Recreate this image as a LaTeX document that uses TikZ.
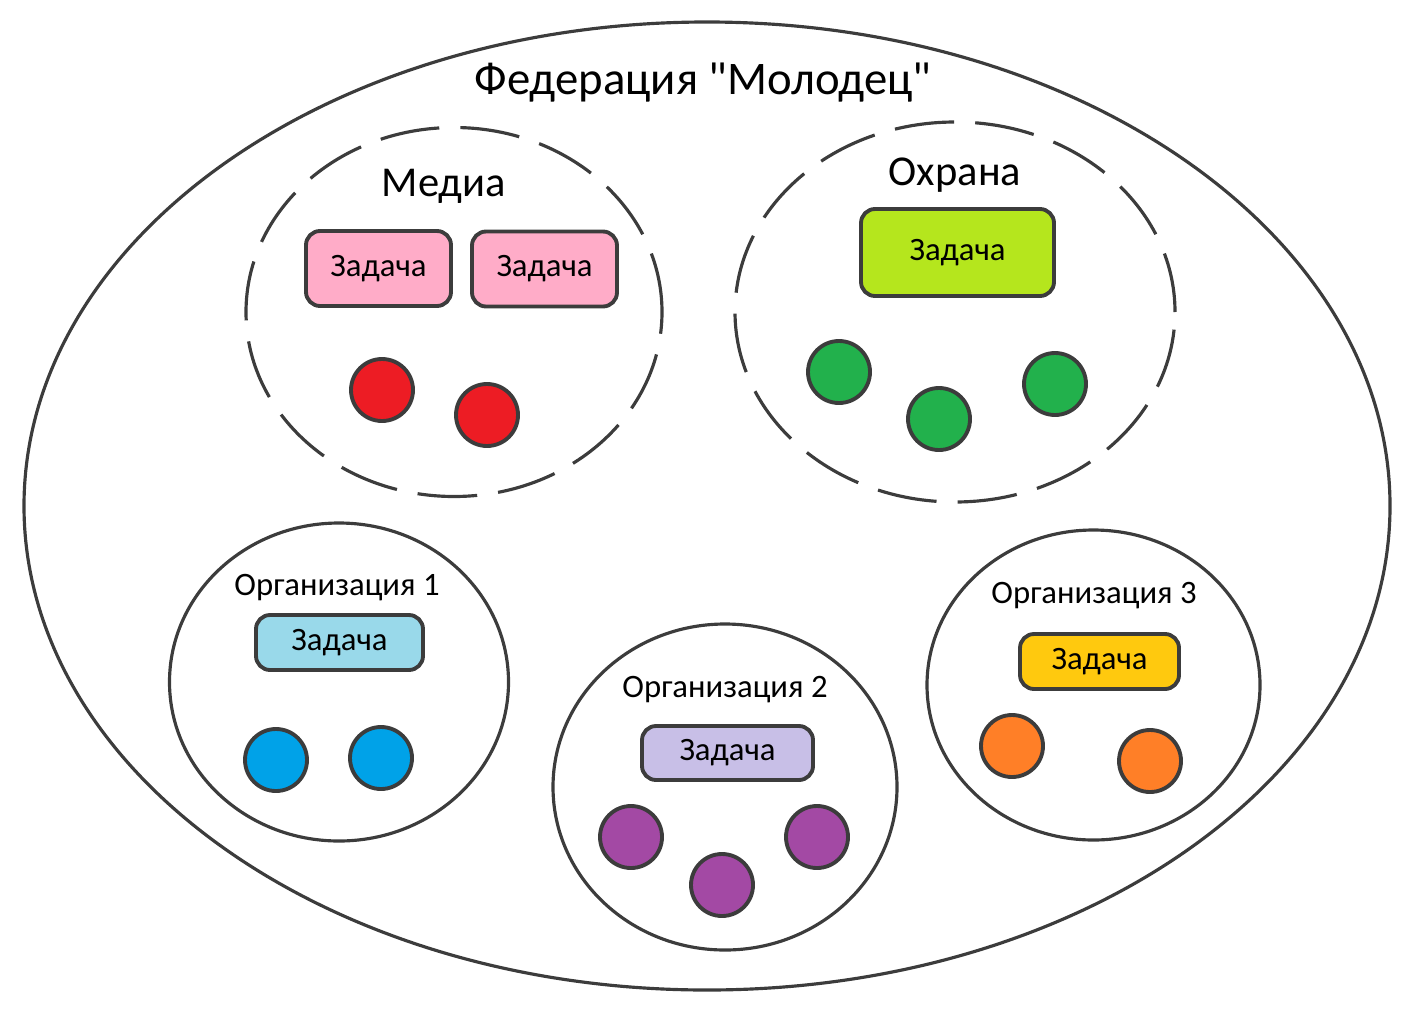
\documentclass[tikz,border=0pt]{standalone}
\usepackage{fontspec}
\setmainfont{Carlito}
\definecolor{pencil}{RGB}{60, 60, 60}
\definecolor{taskpink}{RGB}{255, 172, 200}
\definecolor{tasklime}{RGB}{181, 230, 29}
\definecolor{taskblue}{RGB}{153, 217, 234}
\definecolor{tasklilac}{RGB}{200, 191, 231}
\definecolor{taskgold}{RGB}{255, 201, 14}
\definecolor{memred}{RGB}{237, 28, 36}
\definecolor{memgreen}{RGB}{34, 177, 76}
\definecolor{memblue}{RGB}{0, 162, 232}
\definecolor{mempurple}{RGB}{163, 73, 164}
\definecolor{memorange}{RGB}{255, 127, 39}
\usetikzlibrary{shapes.geometric}

\begin{document}
\begin{tikzpicture}[
    group/.style={draw=pencil, line width=0.9pt, ellipse, inner sep=0pt},
    dept/.style={group, dash pattern=on 17pt off 6pt},
    task/.style={draw=pencil, line width=1.1pt, rounded corners=4pt, inner sep=0pt, font=\fontsize{9.3}{11}\selectfont},
    member/.style={draw=pencil, line width=1.1pt, circle, inner sep=0pt, minimum size=0.62cm},
    grouplabel/.style={inner sep=0pt, font=\fontsize{9.3}{11}\selectfont},
    deptlabel/.style={inner sep=0pt, font=\fontsize{12.1}{14}\selectfont}
  ]
  \useasboundingbox (0, 0) rectangle (14.18, -10.19);

  % Federation
  \node[group, minimum width=13.66cm, minimum height=9.68cm] (fed) at (7.07, -5.06) {};
  \node[inner sep=0pt, font=\fontsize{13.3}{16}\selectfont] (fedlabel) at (7.03, -0.83) {Федерация \textquotedbl Молодец\textquotedbl};

  % Departments
  \node[dept, minimum width=4.16cm, minimum height=3.69cm] (media) at (4.54, -3.12) {};
  \node[deptlabel] (medialabel) at (4.44, -1.86) {Медиа};
  \node[task, fill=taskpink, minimum width=1.45cm, minimum height=0.75cm] (mediatask1) at (3.785, -2.685) {Задача};
  \node[task, fill=taskpink, minimum width=1.45cm, minimum height=0.75cm] (mediatask2) at (5.445, -2.69) {Задача};
  \node[member, fill=memred] (media1) at (3.82, -3.90) {};
  \node[member, fill=memred] (media2) at (4.87, -4.15) {};

  \node[dept, minimum width=4.40cm, minimum height=3.80cm] (guard) at (9.55, -3.12) {};
  \node[deptlabel] (guardlabel) at (9.55, -1.75) {Охрана};
  \node[task, fill=tasklime, minimum width=1.93cm, minimum height=0.87cm] (guardtask) at (9.575, -2.525) {Задача};
  \node[member, fill=memgreen] (guard1) at (8.39, -3.72) {};
  \node[member, fill=memgreen] (guard2) at (9.39, -4.19) {};
  \node[member, fill=memgreen] (guard3) at (10.55, -3.84) {};

  % Organisations
  \node[group, minimum width=3.39cm, minimum height=3.18cm] (org1) at (3.39, -6.82) {};
  \node[grouplabel] (org1label) at (3.37, -5.88) {Организация 1};
  \node[task, fill=taskblue, minimum width=1.67cm, minimum height=0.55cm] (org1task) at (3.395, -6.425) {Задача};
  \node[member, fill=memblue] (org1a) at (2.76, -7.60) {};
  \node[member, fill=memblue] (org1b) at (3.81, -7.58) {};

  \node[group, minimum width=3.44cm, minimum height=3.26cm] (org2) at (7.25, -7.87) {};
  \node[grouplabel] (org2label) at (7.25, -6.90) {Организация 2};
  \node[task, fill=tasklilac, minimum width=1.71cm, minimum height=0.54cm] (org2task) at (7.275, -7.53) {Задача};
  \node[member, fill=mempurple] (org2a) at (6.31, -8.37) {};
  \node[member, fill=mempurple] (org2b) at (7.22, -8.85) {};
  \node[member, fill=mempurple] (org2c) at (8.17, -8.37) {};

  \node[group, minimum width=3.33cm, minimum height=3.10cm] (org3) at (10.935, -6.85) {};
  \node[grouplabel] (org3label) at (10.94, -5.96) {Организация 3};
  \node[task, fill=taskgold, minimum width=1.59cm, minimum height=0.55cm] (org3task) at (10.995, -6.615) {Задача};
  \node[member, fill=memorange] (org3a) at (10.12, -7.46) {};
  \node[member, fill=memorange] (org3b) at (11.50, -7.61) {};
\end{tikzpicture}
\end{document}
